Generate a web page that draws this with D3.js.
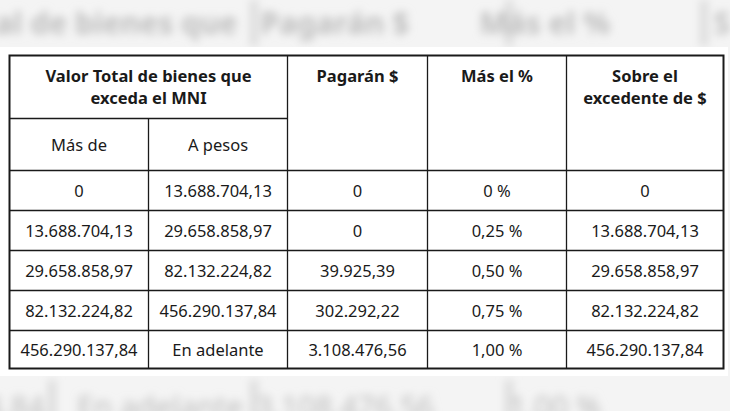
<!DOCTYPE html>
<html><head><meta charset="utf-8">
<script src="https://cdn.jsdelivr.net/npm/d3@7"></script>
<style>body{margin:0;background:#fff;}svg{display:block;font-family:"Noto Sans",sans-serif;}</style>
</head><body><div id="chart"></div>
<script>
var w = 730, h = 411;
var tLeft = 9.5, tRight = 723.5, tTop = 55.5;

var headers = ["Pagarán $", "Más el %", "Sobre el|excedente de $"];
var groupHeader = "Valor Total de bienes que|exceda el MNI";
var subHeaders = ["Más de", "A pesos"];
var masDe = ["0", "13.688.704,13", "29.658.858,97", "82.132.224,82", "456.290.137,84"];
var aPesos = ["13.688.704,13", "29.658.858,97", "82.132.224,82", "456.290.137,84", "En adelante"];
var pagaran = ["0", "0", "39.925,39", "302.292,22", "3.108.476,56"];
var masPct = ["0 %", "0,25 %", "0,50 %", "0,75 %", "1,00 %"];
var excedente = ["0", "13.688.704,13", "29.658.858,97", "82.132.224,82", "456.290.137,84"];

var colEdges = [tLeft, 148.5, 287.5, 427.5, 566.5, tRight];
var rowEdges = [tTop, 118.5, 170.5, 210.5, 250.5, 290.5, 330.5, 368.5];

var svg = d3.select("#chart").append("svg").attr("width", w).attr("height", h);

// blurred backdrop
var defs = svg.append("defs");
defs.append("filter").attr("id", "blur").attr("x", "-10%").attr("y", "-50%").attr("width", "120%").attr("height", "200%")
    .append("feGaussianBlur").attr("stdDeviation", 4);
svg.append("rect").attr("width", w).attr("height", h).attr("fill", "#f4f4f4");
var bg = svg.append("g").attr("filter", "url(#blur)");
[[250, 0, 8, 46], [505, 0, 8, 46], [700, 0, 8, 46], [48, 380, 8, 40], [250, 380, 8, 40], [505, 380, 8, 40]].forEach(function (r) {
    bg.append("rect").attr("x", r[0]).attr("y", r[1]).attr("width", r[2]).attr("height", r[3]).attr("fill", "#dcdcdc");
});
var bgText = [["tal de bienes que", 110, 34, 700], ["Pagarán $", 335, 34, 700], ["Más el %", 545, 34, 700], ["S", 722, 34, 700],
              ["4,84", 15, 418, 400], ["En adelante", 160, 418, 400], ["3.108.476,56", 345, 418, 400], ["1,00 %", 555, 418, 400]];
bg.selectAll("text.bg").data(bgText).enter().append("text")
    .attr("x", function (d) { return d[1]; }).attr("y", function (d) { return d[2]; })
    .attr("text-anchor", "middle").attr("font-size", 30).attr("font-weight", function (d) { return d[3]; })
    .attr("fill", "#bdbdbd").text(function (d) { return d[0]; });
svg.append("rect").attr("x", 0).attr("y", 47).attr("width", 728).attr("height", 329).attr("fill", "#fff");

var x = d3.scaleOrdinal().domain(d3.range(6)).range(colEdges);
var y = d3.scaleOrdinal().domain(d3.range(8)).range(rowEdges);
var g = svg.append("g");
var ink = "#1a1a1a";

function cellText(x0, x1, baseY, txt, bold) {
    var t = g.append("text").attr("text-anchor", "middle").attr("fill", ink)
        .attr("font-size", 16.5).attr("font-weight", bold ? 700 : 400);
    txt.split("|").forEach(function (l, i) {
        t.append("tspan").attr("x", (x0 + x1) / 2).attr("y", baseY + i * 22).text(l);
    });
}

// headers
cellText(x(0), x(2), y(0) + 26, groupHeader, true);
subHeaders.forEach(function (s, i) { cellText(x(i), x(i + 1), (y(1) + y(2)) / 2 + 6, s, false); });
headers.forEach(function (s, i) { cellText(x(i + 2), x(i + 3), y(0) + 26, s, true); });

// body
var cols = [masDe, aPesos, pagaran, masPct, excedente];
cols.forEach(function (col, c) {
    col.forEach(function (v, r) { cellText(x(c), x(c + 1), (y(r + 2) + y(r + 3)) / 2 + 6, v, false); });
});

// grid lines
function line(x0, y0, x1, y1) {
    g.append("line").attr("x1", x0).attr("y1", y0).attr("x2", x1).attr("y2", y1)
        .attr("stroke", ink).attr("stroke-width", 1.3);
}
g.append("rect").attr("x", tLeft).attr("y", tTop).attr("width", tRight - tLeft).attr("height", y(7) - tTop)
    .attr("fill", "none").attr("stroke", ink).attr("stroke-width", 2);
line(x(0), y(1), x(2), y(1));
for (var r = 2; r < 7; r++) line(tLeft, y(r), tRight, y(r));
line(x(1), y(1), x(1), y(7));
for (var c = 2; c < 5; c++) line(x(c), tTop, x(c), y(7));
</script></body></html>
